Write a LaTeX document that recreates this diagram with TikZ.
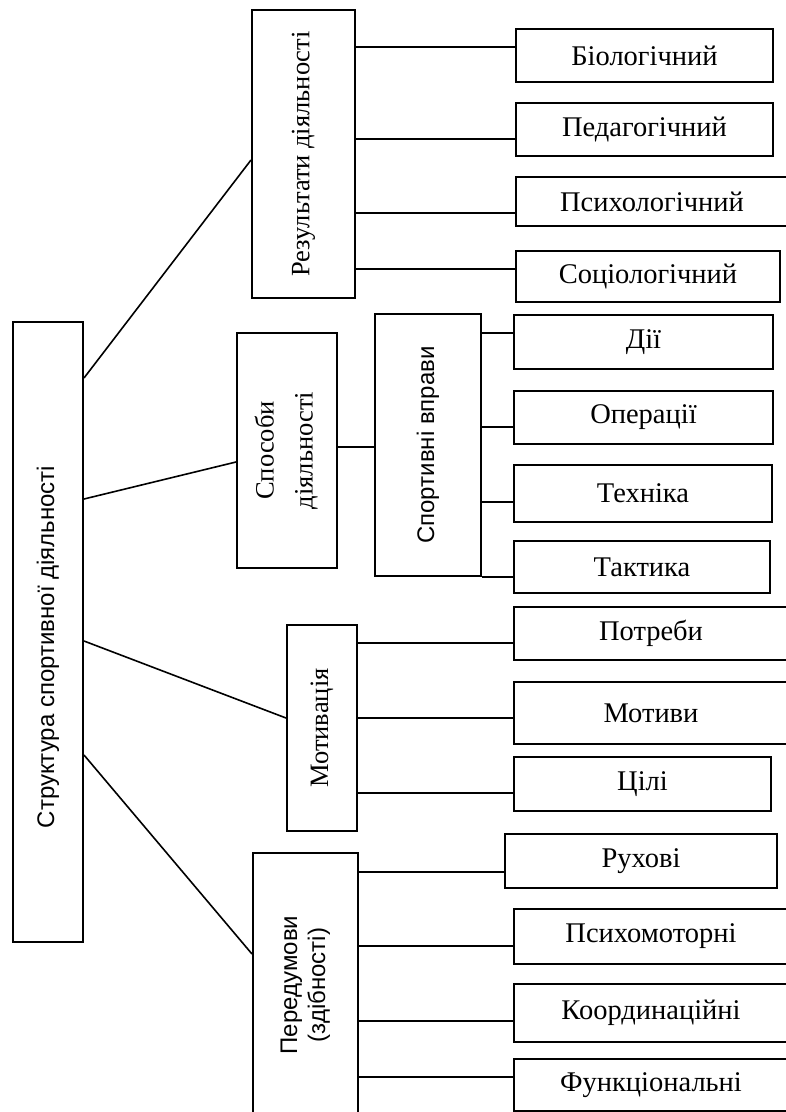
\documentclass[tikz,border=0pt]{standalone}
\usepackage{fontspec}
\setmainfont{Liberation Serif}
\setsansfont{Liberation Sans}
\usepackage{tikz}
\usetikzlibrary{calc}
\def\SerifSize{\fontsize{28.5}{33}\selectfont}
\def\SideSize{\fontsize{26.5}{31}\selectfont}
\def\SansSize{\sffamily\fontsize{24}{28}\selectfont}

\begin{document}
\begin{tikzpicture}[x=1pt,y=-1pt,
	box/.style={draw,line width=2pt,inner sep=0pt,font=\SerifSize},
	vbox/.style={box,font=\SideSize},
	sbox/.style={box,font=\SansSize},
	link/.style={line width=1.6pt}]
	\useasboundingbox (0,0) rectangle (786,1112);
	% main box
	\node[sbox,minimum width=70pt,minimum height=620pt] (main) at (48,632) {\rotatebox{90}{Структура спортивної діяльності\hspace*{30pt}}};
	% 
	\node[vbox,minimum width=103pt,minimum height=288pt] (res) at (303.5,154) {\rotatebox{90}{Результати діяльності}};
	\node[vbox,minimum width=100pt,minimum height=235pt] (spo) at (287,450.5) {\rotatebox{90}{\begin{tabular}{@{}c@{}}Способи\\[8pt]діяльності\end{tabular}}};
	\node[sbox,minimum width=106pt,minimum height=262pt] (vpr) at (428,445) {\rotatebox{90}{Спортивні вправи}};
	\node[vbox,minimum width=70pt,minimum height=206pt] (mot) at (322,728) {\rotatebox{90}{Мотивація}};
	\node[sbox,minimum width=105pt,minimum height=264pt] (per) at (305.5,985) {\rotatebox{90}{\begin{tabular}{@{}c@{}}Передумови\\(здібності)\end{tabular}}};
	% 
	\node[box,minimum width=257pt,minimum height=53pt] (bio) at (644.5,55.5) {Біологічний};
	\node[box,minimum width=257pt,minimum height=53pt] (ped) at (644.5,129.5) {Педагогічний};
	\node[box,minimum width=272pt,minimum height=49pt] (psy) at (652,201.5) {Психологічний};
	\node[box,minimum width=264pt,minimum height=51pt] (soc) at (648,276.5) {Соціологічний};
	% 
	\node[box,minimum width=259pt,minimum height=54pt] (dii) at (643.5,342) {Дії};
	\node[box,minimum width=259pt,minimum height=53pt] (ope) at (643.5,417.5) {Операції};
	\node[box,minimum width=258pt,minimum height=57pt] (tex) at (643,493.5) {Техніка};
	\node[box,minimum width=256pt,minimum height=52pt] (tak) at (642,567) {\raisebox{-6pt}{Тактика}};
	% 
	\node[box,minimum width=274pt,minimum height=53pt] (pot) at (651,633.5) {Потреби};
	\node[box,minimum width=274pt,minimum height=62pt] (mtv) at (651,713) {Мотиви};
	\node[box,minimum width=257pt,minimum height=54pt] (cil) at (642.5,784) {Цілі};
	% 
	\node[box,minimum width=272pt,minimum height=54pt] (ruh) at (641,861) {Рухові};
	\node[box,minimum width=274pt,minimum height=55pt] (psm) at (651,936.5) {Психомоторні};
	\node[box,minimum width=274pt,minimum height=58pt] (koo) at (651,1013) {Координаційні};
	\node[box,minimum width=274pt,minimum height=52pt] (fun) at (651,1085) {Функціональні};
	% links from the main box
	\draw[link] ([yshift=254pt]main.east) -- ([yshift=-6pt]res.west);
	\draw[link] ([yshift=133pt]main.east) -- ([yshift=-11.5pt]spo.west);
	\draw[link] ([yshift=-9pt]main.east) -- ([yshift=10pt]mot.west);
	\draw[link] ([yshift=-123pt]main.east) -- ([yshift=31pt]per.west);
	% results
	\coordinate (r1) at ([yshift=8.5pt]bio.west);
	\coordinate (r2) at ([yshift=-9.5pt]ped.west);
	\coordinate (r3) at ([yshift=-11.5pt]psy.west);
	\coordinate (r4) at ([yshift=7.5pt]soc.west);
	\draw[link] (r1 -| res.east) -- (r1);
	\draw[link] (r2 -| res.east) -- (r2);
	\draw[link] (r3 -| res.east) -- (r3);
	\draw[link] (r4 -| res.east) -- (r4);
	% ways of activity
	\coordinate (s0) at ([yshift=3.5pt]spo.east);
	\draw[link] (s0) -- (s0 -| vpr.west);
	\coordinate (s1) at ([yshift=9pt]dii.west);
	\coordinate (s2) at ([yshift=-9.5pt]ope.west);
	\coordinate (s3) at ([yshift=-8.5pt]tex.west);
	\draw[link] (s1 -| vpr.east) -- (s1);
	\draw[link] (s2 -| vpr.east) -- (s2);
	\draw[link] (s3 -| vpr.east) -- (s3);
	\draw[link] (vpr.south east) -- (vpr.south east -| tak.west);
	% motivation
	\coordinate (m1) at ([yshift=-9.5pt]pot.west);
	\coordinate (m2) at ([yshift=-5pt]mtv.west);
	\coordinate (m3) at ([yshift=-9pt]cil.west);
	\draw[link] (m1 -| mot.east) -- (m1);
	\draw[link] (m2 -| mot.east) -- (m2);
	\draw[link] (m3 -| mot.east) -- (m3);
	% preconditions
	\coordinate (p1) at ([yshift=-11pt]ruh.west);
	\coordinate (p2) at ([yshift=-9.5pt]psm.west);
	\coordinate (p3) at ([yshift=-8pt]koo.west);
	\coordinate (p4) at ([yshift=8pt]fun.west);
	\draw[link] (p1 -| per.east) -- (p1);
	\draw[link] (p2 -| per.east) -- (p2);
	\draw[link] (p3 -| per.east) -- (p3);
	\draw[link] (p4 -| per.east) -- (p4);
\end{tikzpicture}
\end{document}
